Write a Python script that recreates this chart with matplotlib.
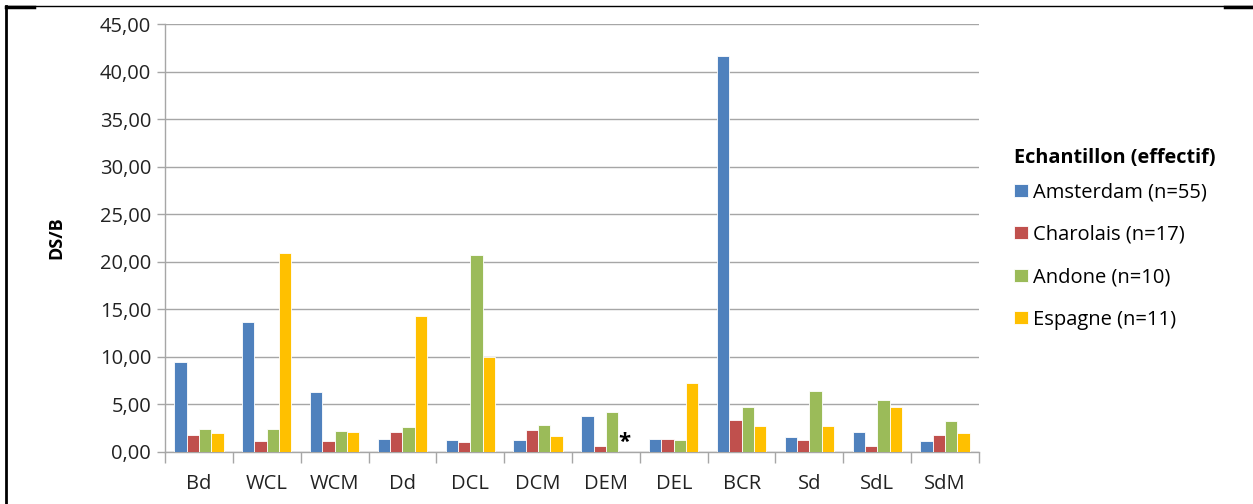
import numpy as np
import matplotlib.pyplot as plt
from matplotlib.ticker import FuncFormatter, MultipleLocator
from matplotlib.lines import Line2D

categories = ['Bd', 'WCL', 'WCM', 'Dd', 'DCL', 'DCM', 'DEM', 'DEL', 'BCR', 'Sd', 'SdL', 'SdM']
series_names = ['Amsterdam (n=55)', 'Charolais (n=17)', 'Andone (n=10)', 'Espagne (n=11)']
amsterdam = [9.42, 13.65, 6.32, 1.37, 1.27, 1.27, 3.76, 1.37, 41.65, 1.51, 2.10, 1.13]
charolais = [1.72, 1.13, 1.13, 2.10, 1.02, 2.25, 0.64, 1.37, 3.30, 1.27, 0.64, 1.72]
andone = [2.36, 2.36, 2.21, 2.60, 20.74, 2.81, 4.14, 1.27, 4.74, 6.42, 5.44, 3.20]
espagne = [1.93, 20.90, 2.10, 14.25, 9.93, 1.62, np.nan, 7.27, 2.70, 2.70, 4.74, 1.96]
colors = ['#4F81BD', '#C0504D', '#9BBB59', '#FFC000']

plt.rcParams['font.family'] = ['Open Sans', 'DejaVu Sans']

fig = plt.figure(figsize=(12.53, 5.04), dpi=100)
ax = fig.add_axes([0.1317, 0.1038, 0.6496, 0.848])

x = np.arange(len(categories))
w = 0.182
data = [amsterdam, charolais, andone, espagne]
for i, (vals, name, c) in enumerate(zip(data, series_names, colors)):
    ax.bar(x + (i - 1.5) * w, vals, width=w, color=c, label=name,
           edgecolor='white', linewidth=0.6, zorder=3)

# missing value marker
for j, v in enumerate(espagne):
    if np.isnan(v):
        ax.text(x[j] + 1.5 * w, 1.0, '*', ha='center', va='center',
                fontsize=16, fontweight='bold', color='black', zorder=4)

ax.set_xlim(-0.5, len(categories) - 0.5)
ax.set_ylim(0, 45)
ax.yaxis.set_major_locator(MultipleLocator(5))
ax.yaxis.set_major_formatter(FuncFormatter(lambda v, p: f'{v:.2f}'.replace('.', ',')))
ax.set_xticks(x)
ax.set_xticklabels(categories)
ax.set_xticks(np.arange(-0.5, len(categories)), minor=True)
ax.tick_params(axis='x', which='major', length=0, pad=16, labelsize=14.5, colors='#222222')
ax.tick_params(axis='x', which='minor', length=8, width=1, color='#A6A6A6', direction='out')
ax.tick_params(axis='y', length=6, width=1, color='#A6A6A6', labelsize=14.5,
               pad=4, labelcolor='#222222')

ax.grid(axis='y', color='#A6A6A6', linewidth=1, zorder=0)
for s in ['top', 'right']:
    ax.spines[s].set_visible(False)
for s in ['left', 'bottom']:
    ax.spines[s].set_color('#A6A6A6')
    ax.spines[s].set_linewidth(1)

ax.set_ylabel('DS/B', fontsize=13, fontweight='bold', labelpad=25)

leg = ax.legend(loc='upper left', bbox_to_anchor=(0.806, 0.715),
                bbox_transform=fig.transFigure, frameon=False,
                title='Echantillon (effectif)', fontsize=14.5,
                handlelength=0.7, handleheight=0.6, handletextpad=0.25,
                labelspacing=1.12, borderaxespad=0, borderpad=0.2)
leg.get_title().set_fontweight('bold')
leg.get_title().set_fontsize(14.3)
leg._legend_box.align = 'left'
leg._legend_box.sep = 10.5  # tighter gap under the title

# frame lines of the original screenshot
fig.add_artist(Line2D([0.005, 1.0], [0.988, 0.988], transform=fig.transFigure,
                      color='black', linewidth=1))
fig.add_artist(Line2D([0.978, 1.0], [0.987, 0.987], transform=fig.transFigure,
                      color='black', linewidth=2.5))
fig.add_artist(Line2D([0.005, 0.027], [0.987, 0.987], transform=fig.transFigure,
                      color='black', linewidth=2.5))
fig.add_artist(Line2D([0.005, 0.005], [0.0, 0.988], transform=fig.transFigure,
                      color='black', linewidth=2))

fig.savefig('out.png', dpi=100)
